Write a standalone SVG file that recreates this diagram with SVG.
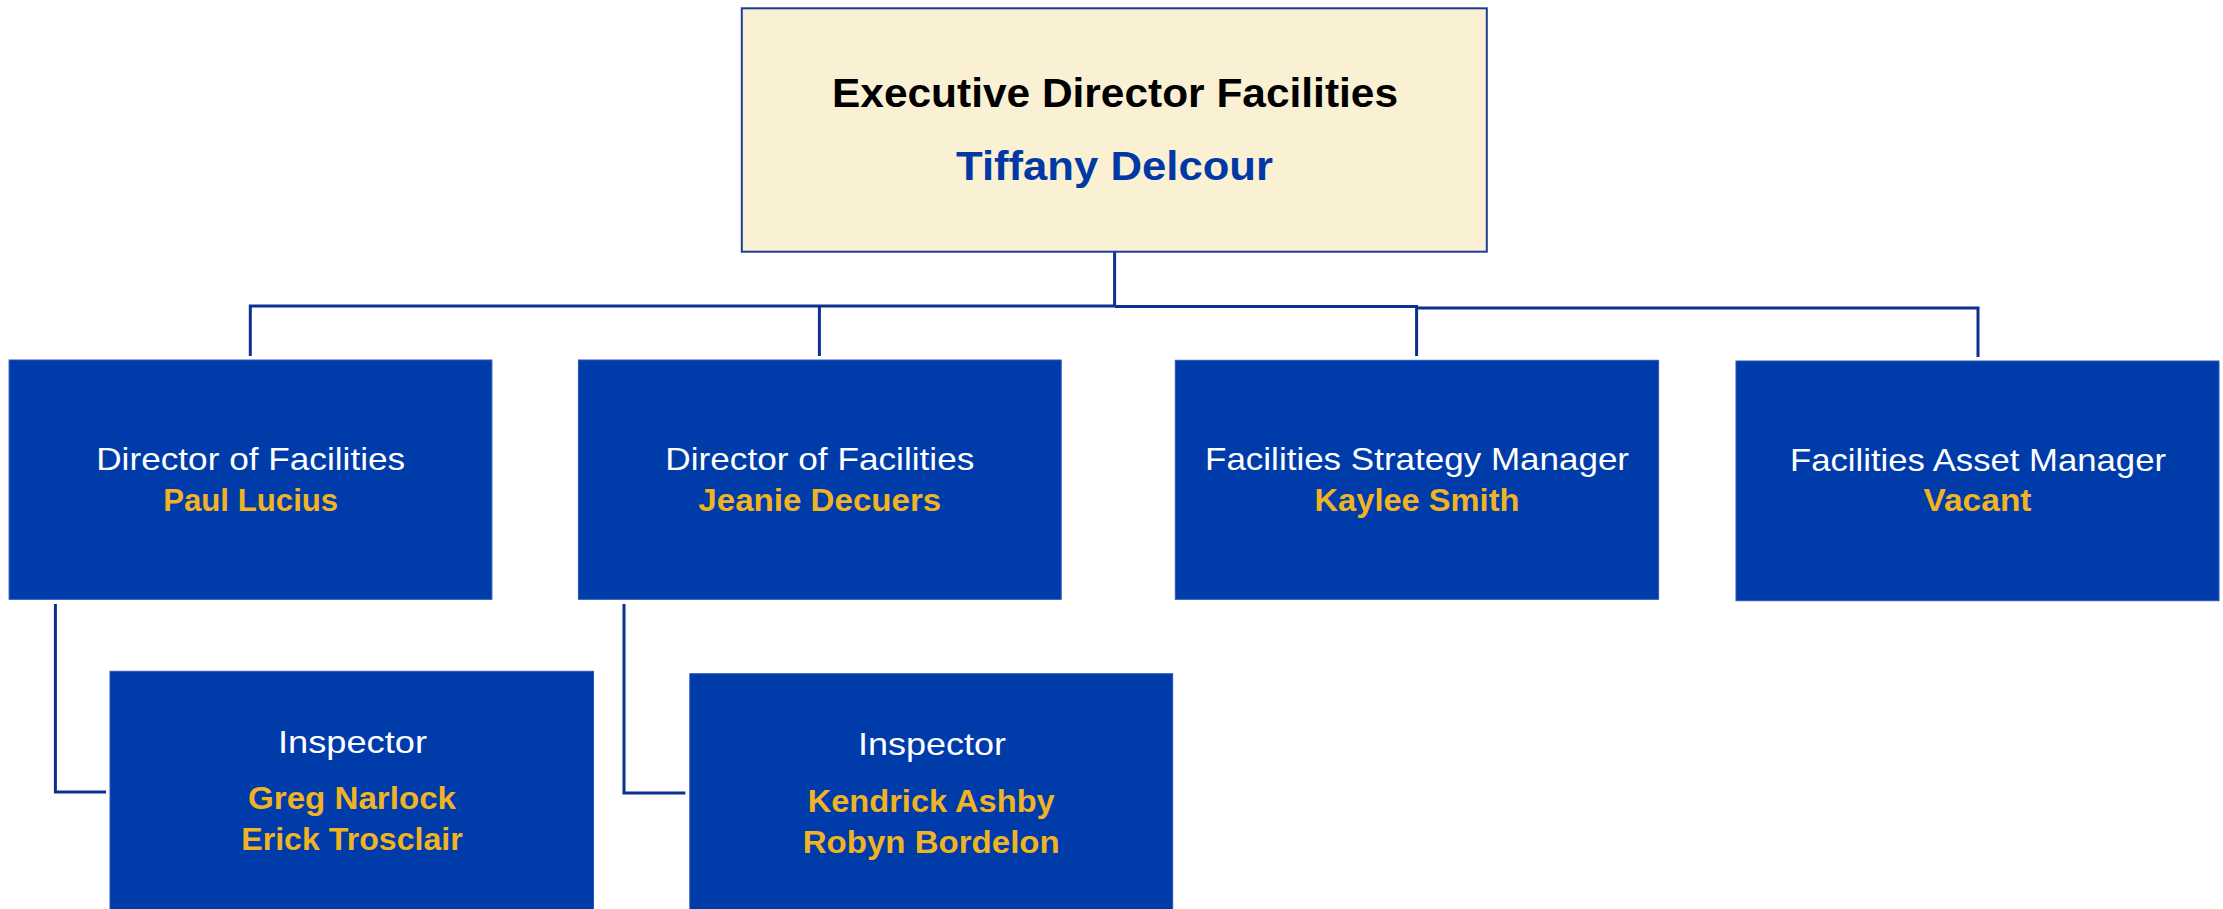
<svg xmlns="http://www.w3.org/2000/svg" width="2223" height="909" viewBox="0 0 2223 909">
<style>
.box{fill:#003BAA;stroke:#2A55B8;stroke-width:1}
.top{fill:#FAF0D3;stroke:#1E3C96;stroke-width:2}
.conn{fill:none;stroke:#0A318F;stroke-width:3}
.t{font-family:"Liberation Sans",Arial,sans-serif;text-anchor:middle}
.role{fill:#FFFFFF;font-size:32px}
.name{fill:#F0B323;font-size:31px;font-weight:bold}
</style>
<rect width="2223" height="909" fill="#FFFFFF"/>
<g id="connectors">
<polyline class="conn" points="1114.6,252 1114.6,306.5"/>
<polyline class="conn" points="250.3,356 250.3,306 1114.6,306"/>
<polyline class="conn" points="819.4,356 819.4,306"/>
<polyline class="conn" points="1114.6,306.5 1416.6,306.5 1416.6,356"/>
<polyline class="conn" points="1416.6,308 1978,308 1978,357"/>
<polyline class="conn" points="55.4,604 55.4,792 106,792"/>
<polyline class="conn" points="624,604 624,793 685.3,793"/>
</g>
<g id="exec">
<rect class="top" x="741.8" y="8.3" width="745" height="243.4"/>
<text class="t" x="1115" y="106.7" font-size="41" font-weight="bold" fill="#000000" textLength="566" lengthAdjust="spacingAndGlyphs">Executive Director Facilities</text>
<text class="t" x="1114.5" y="180" font-size="41" font-weight="bold" fill="#0039A6" textLength="317" lengthAdjust="spacingAndGlyphs">Tiffany Delcour</text>
</g>
<g id="dir1">
<rect class="box" x="9.1" y="360" width="482.8" height="239.3"/>
<text class="t role" x="250.7" y="470" textLength="309" lengthAdjust="spacingAndGlyphs">Director of Facilities</text>
<text class="t name" x="250.7" y="510.7" textLength="175" lengthAdjust="spacingAndGlyphs">Paul Lucius</text>
</g>
<g id="dir2">
<rect class="box" x="578.4" y="360" width="482.8" height="239.3"/>
<text class="t role" x="819.8" y="470" textLength="309" lengthAdjust="spacingAndGlyphs">Director of Facilities</text>
<text class="t name" x="819.8" y="510.7" textLength="243" lengthAdjust="spacingAndGlyphs">Jeanie Decuers</text>
</g>
<g id="strategy">
<rect class="box" x="1175.3" y="360.3" width="483.3" height="239"/>
<text class="t role" x="1417" y="470" textLength="424" lengthAdjust="spacingAndGlyphs">Facilities Strategy Manager</text>
<text class="t name" x="1417" y="510.5" textLength="205" lengthAdjust="spacingAndGlyphs">Kaylee Smith</text>
</g>
<g id="asset">
<rect class="box" x="1736" y="361" width="483" height="239.7"/>
<text class="t role" x="1978" y="470.7" textLength="376" lengthAdjust="spacingAndGlyphs">Facilities Asset Manager</text>
<text class="t name" x="1977.5" y="510.5" textLength="108" lengthAdjust="spacingAndGlyphs">Vacant</text>
</g>
<g id="insp1">
<rect class="box" x="110" y="671.3" width="483.5" height="250"/>
<text class="t role" x="352.5" y="752.7" textLength="149" lengthAdjust="spacingAndGlyphs">Inspector</text>
<text class="t name" x="352" y="809.3" textLength="208" lengthAdjust="spacingAndGlyphs">Greg Narlock</text>
<text class="t name" x="352" y="850" textLength="221.5" lengthAdjust="spacingAndGlyphs">Erick Trosclair</text>
</g>
<g id="insp2">
<rect class="box" x="689.8" y="673.7" width="482.9" height="250"/>
<text class="t role" x="932" y="755" textLength="148" lengthAdjust="spacingAndGlyphs">Inspector</text>
<text class="t name" x="931.2" y="811.7" textLength="247" lengthAdjust="spacingAndGlyphs">Kendrick Ashby</text>
<text class="t name" x="931.2" y="852.7" textLength="257" lengthAdjust="spacingAndGlyphs">Robyn Bordelon</text>
</g>
</svg>
